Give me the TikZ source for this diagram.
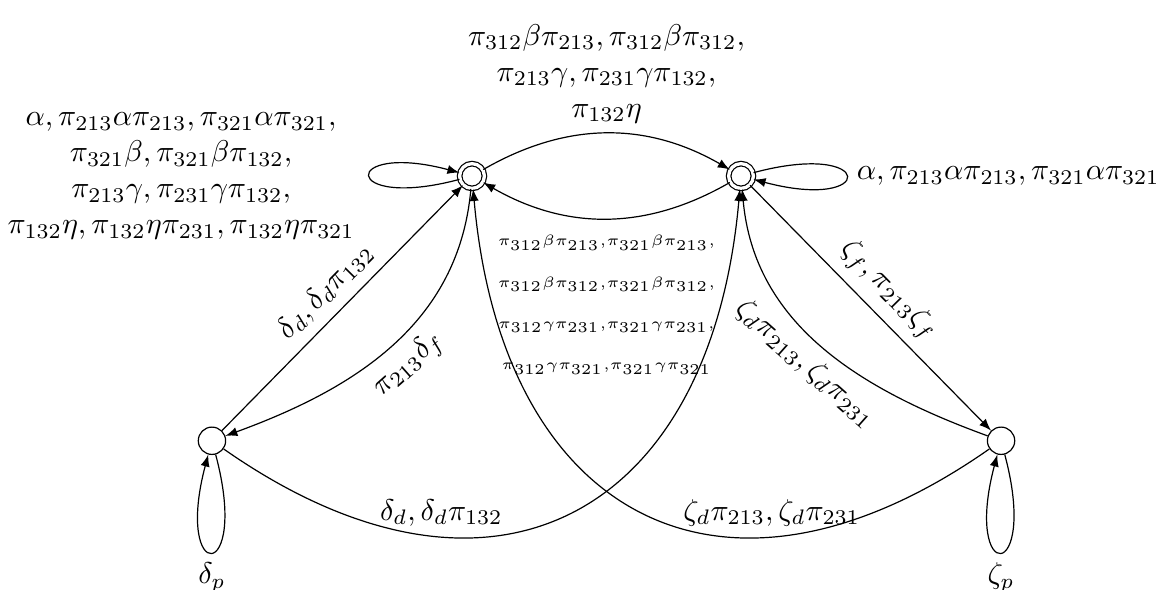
\documentclass[tikz,border=0pt]{standalone}
\usepackage{tikz}

\tikzset{
  state/.style={circle,draw,minimum size=0.32cm,inner sep=0pt},
  final/.style={state,double,double distance=1.1pt,minimum size=0.29cm},
}

\begin{document}
\begin{tikzpicture}[>=latex]
\pgfmathsetmacro\dx{3.15}
\pgfmathsetmacro\lx{-3.045}
\pgfmathsetmacro\rx{\dx - \lx}
\pgfmathsetmacro\ly{-3.1}
\useasboundingbox (-5.527,-4.836) rectangle (8.103,2.061);

\node[final] (q0) at (0,0) {};
\node[final] (q1) at (\dx,0) {};
\node[state] (qd) at (\lx,\ly) {};
\node[state] (qz) at (\rx,\ly) {};

% loops
\draw[->] (q0) to[out=195,in=165,min distance=1.45cm]
  node[left,xshift=-1.5pt,align=center] {$\alpha, \pi_{213}\alpha\pi_{213}, \pi_{321}\alpha\pi_{321},$\\
  $\pi_{321}\beta, \pi_{321}\beta\pi_{132},$\\
  $\pi_{213}\gamma, \pi_{231}\gamma\pi_{132},$\\
  $\pi_{132}\eta, \pi_{132}\eta\pi_{231}, \pi_{132}\eta\pi_{321}$} (q0);
\draw[->] (q1) to[out=15,in=-15,min distance=1.5cm]
  node[right] {$\alpha, \pi_{213}\alpha\pi_{213}, \pi_{321}\alpha\pi_{321}$} (q1);
\draw[->] (qd) to[out=285,in=255,min distance=1.58cm] node[below] {$\delta_p$} (qd);
\draw[->] (qz) to[out=285,in=255,min distance=1.58cm] node[below] {$\zeta_p$} (qz);

% between the final states
\draw[->] (q0) to[bend left=30]
  node[above,align=center] {$\pi_{312}\beta\pi_{213}, \pi_{312}\beta\pi_{312},$\\
  $\pi_{213}\gamma, \pi_{231}\gamma\pi_{132},$\\
  $\pi_{132}\eta$} (q1);
\draw[->] (q1) to[bend left=30]
  node[below,yshift=-2pt,align=center] {$\scriptscriptstyle\pi_{312}\beta\pi_{213},\pi_{321}\beta\pi_{213},$\\[1.8pt]
  $\scriptscriptstyle\pi_{312}\beta\pi_{312},\pi_{321}\beta\pi_{312},$\\[1.8pt]
  $\scriptscriptstyle\pi_{312}\gamma\pi_{231},\pi_{321}\gamma\pi_{231},$\\[1.8pt]
  $\scriptscriptstyle\pi_{312}\gamma\pi_{321},\pi_{321}\gamma\pi_{321}$} (q0);

% left side
\draw[->] (qd) -- node[sloped,above] {$\delta_d, \delta_d\pi_{132}$} (q0);
\draw[->] (q0) to[out=-95,in=20] node[sloped,below] {$\pi_{213}\delta_f$} (qd);
\draw[->] (qd) to[out=-35,in=-95,looseness=1.45] node[pos=0.29,above] {$\delta_d, \delta_d\pi_{132}$} (q1);

% right side
\draw[->] (q1) -- node[sloped,above] {$\zeta_f, \pi_{213}\zeta_f$} (qz);
\draw[->] (qz) to[out=160,in=-85] node[sloped,below] {$\zeta_d\pi_{213}, \zeta_d\pi_{231}$} (q1);
\draw[->] (qz) to[out=215,in=-85,looseness=1.45] node[pos=0.29,above] {$\zeta_d\pi_{213}, \zeta_d\pi_{231}$} (q0);
\end{tikzpicture}
\end{document}
